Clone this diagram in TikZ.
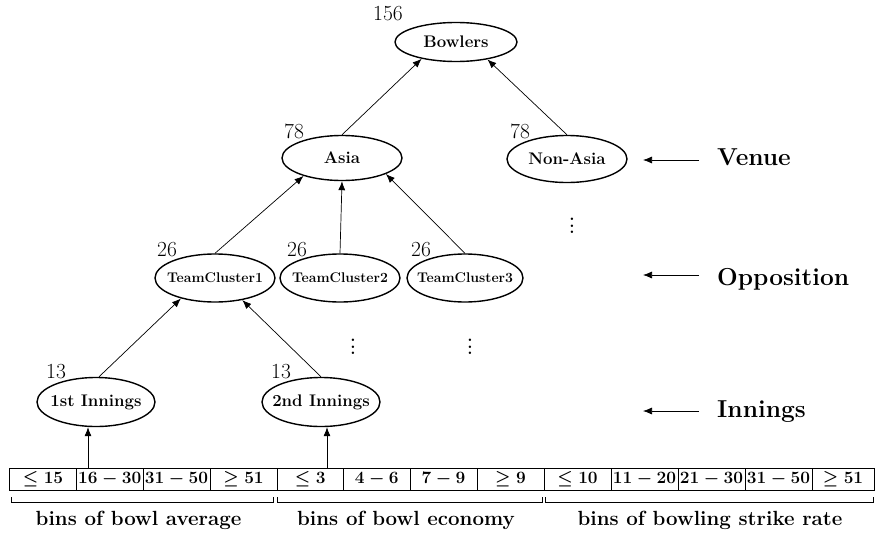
\documentclass[tikz,border=0pt]{standalone}
\usepackage{fontspec}
\usetikzlibrary{shapes.geometric,arrows.meta,calc}
\newcommand\zw[1]{\makebox[0pt]{#1}}
\begin{document}
\begin{tikzpicture}[x=1pt,y=-1pt,
 ell/.style={ellipse,draw,line width=1.4pt,inner sep=0pt,font=\fontsize{16.8}{18}\selectfont\bfseries},
 tcell/.style={ell,font=\fontsize{14}{16}\selectfont\bfseries},
 arr/.style={-{Latex[length=9pt,width=7pt]},line width=0.7pt},
 num/.style={font=\fontsize{21.5}{23}\selectfont,inner sep=0pt},
 cell/.style={draw,line width=0.8pt,minimum height=22pt,inner sep=0pt,font=\fontsize{16.5}{18}\selectfont\bfseries\boldmath},
 lvl/.style={font=\fontsize{24.5}{27}\selectfont\bfseries,anchor=base west,inner sep=0pt},
 bin/.style={font=\fontsize{20.5}{23}\selectfont\bfseries,anchor=base,inner sep=0pt},
 brk/.style={line width=0.8pt},
 dts/.style={font=\fontsize{17}{6.5}\selectfont\bfseries,align=center,inner sep=0pt}]
\useasboundingbox (0,0) rectangle (875,533);

% tree nodes
\node[ell,minimum width=122pt,minimum height=39pt] (bow) at (456,42) {\zw{Bowlers}};
\node[ell,minimum width=120pt,minimum height=45pt] (asia) at (342,158) {\zw{Asia}};
\node[ell,minimum width=120pt,minimum height=47pt] (nasia) at (567,159) {\zw{Non-Asia}};
\node[tcell,minimum width=120pt,minimum height=48pt] (tc1) at (215,278) {\zw{TeamCluster1}};
\node[tcell,minimum width=120pt,minimum height=48pt] (tc2) at (340,278) {\zw{TeamCluster2}};
\node[tcell,minimum width=116pt,minimum height=48pt] (tc3) at (465,278) {\zw{TeamCluster3}};
\node[ell,minimum width=118pt,minimum height=49pt] (in1) at (96,402) {\zw{1st Innings}};
\node[ell,minimum width=118pt,minimum height=49pt] (in2) at (321,402) {\zw{2nd Innings}};

% counts
\node[num] (n156) at (388,14) {156};
\node[num] (n78a) at (294,131) {78};
\node[num] (n78b) at (520,131) {78};
\node[num] (n26a) at (167,250) {26};
\node[num] (n26b) at (297,250) {26};
\node[num] (n26c) at (421,250) {26};
\node[num] (n13a) at (56,372) {13};
\node[num] (n13b) at (281,372) {13};

% dots
\node[dts] (d1) at (572,226) {.\\.\\.};
\node[dts] (d2) at (353,347) {.\\.\\.};
\node[dts] (d3) at (470,347) {.\\.\\.};

% tree arrows
\draw[arr] (asia.north) -- (bow.206);
\draw[arr] (nasia.north) -- (bow.331);
\draw[arr] (tc1.north) -- (asia.205);
\draw[arr] (tc2.north) -- (asia.south);
\draw[arr] (tc3.north) -- (asia.340);
\draw[arr] ([xshift=3pt]in1.north) -- (tc1.211);
\draw[arr] (in2.north) -- (tc1.321);

% bins
\foreach \l/\r/\t [count=\i from 0] in {
 9.5/76.5/{$\leq 15$}, 76.5/143/{$16-30$}, 143/210/{$31-50$}, 210/277/{$\geq 51$},
 277/343.5/{$\leq 3$}, 343.5/410/{$4-6$}, 410/477/{$7-9$}, 477/544/{$\geq 9$},
 544/611/{$\leq 10$}, 611/678/{$11-20$}, 678/745/{$21-30$}, 745/812/{$31-50$}, 812/874/{$\geq 51$}}
 \node[cell,minimum width={(\r-\l)*1pt}] (c\i) at ({(\l+\r)/2},479) {\t};

\draw[arr] ([xshift=-8pt]in1.south |- c1.north) -- ([xshift=-8pt]in1.south);
\draw[arr] ([xshift=6pt]in2.south |- c4.north) -- ([xshift=6pt]in2.south);

% brackets
\draw[brk] ([xshift=2.5pt,yshift=-7pt]c0.south west) -- ++(0,5) -| ([xshift=-4pt,yshift=-7pt]c3.south east);
\draw[brk] ([xshift=1pt,yshift=-7pt]c4.south west) -- ++(0,5) -| ([xshift=-2pt,yshift=-7pt]c7.south east);
\draw[brk] ([xshift=2pt,yshift=-7pt]c8.south west) -- ++(0,5) -| ([xshift=-1pt,yshift=-7pt]c12.south east);

\node[bin] (b1) at (138.5,525) {bins of bowl average};
\node[bin] (b2) at (406,525) {bins of bowl economy};
\node[bin] (b3) at (710,525) {bins of bowling strike rate};

% level labels
\node[lvl] (venue) at (717,165) {Venue};
\node[lvl] (opp) at (717,285) {Opposition};
\node[lvl] (inn) at (717,417) {Innings};
\coordinate (vt) at (643,160);
\coordinate (ot) at (643,275);
\coordinate (it) at (643,411);
\draw[arr] ([xshift=-18pt]venue.west |- vt) -- (vt);
\draw[arr] ([xshift=-18pt]opp.west |- ot) -- (ot);
\draw[arr] ([xshift=-18pt]inn.west |- it) -- (it);
\end{tikzpicture}
\end{document}
